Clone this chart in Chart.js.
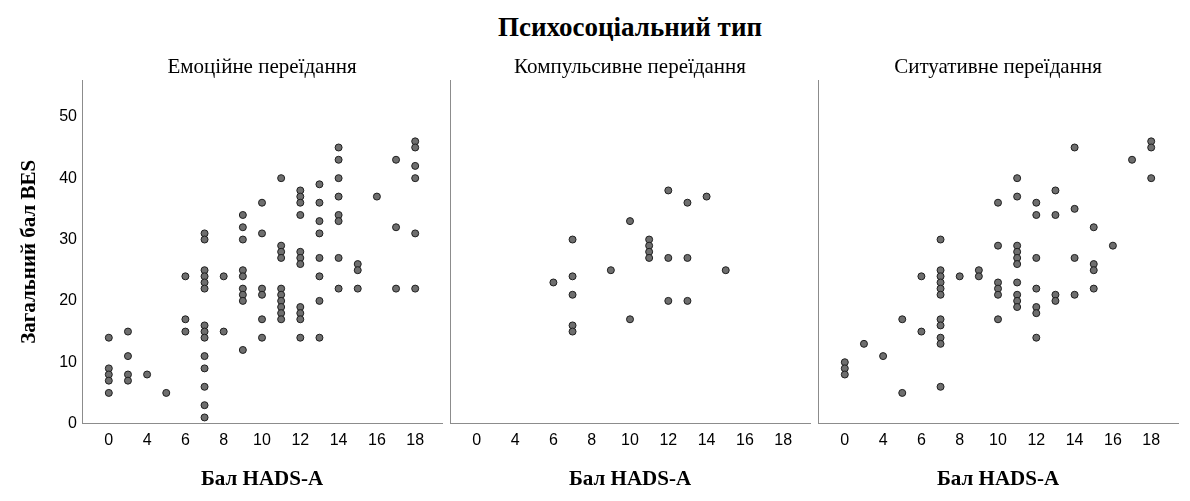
<!DOCTYPE html>
<html lang="uk">
<head>
<meta charset="utf-8">
<title>Психосоціальний тип</title>
<script src="https://cdn.jsdelivr.net/npm/chart.js@4.4.1/dist/chart.umd.min.js"></script>
<style>
    body { margin: 0; background: #fff; }
    #wrap { position: relative; width: 1190px; height: 501px; overflow: hidden; background: #fff; }
    #mainTitle {
        position: absolute; left: 82px; width: 1096px; top: 11px;
        text-align: center; font: bold 27px 'Liberation Serif', serif; line-height: 32px; color: #000;
    }
    canvas { position: absolute; top: 0; }
</style>
</head>
<body>
<div id="wrap">
    <div id="mainTitle">Психосоціальний тип</div>
    <canvas id="panelEmotional" width="447" height="501" style="left:0"></canvas>
    <canvas id="panelCompulsive" width="370" height="501" style="left:445px"></canvas>
    <canvas id="panelSituational" width="377" height="501" style="left:813px"></canvas>
</div>
<script>
// HADS-A scores present on the (ordinal) x axis; every other one gets a label
const hadsCategories = ['0', '2', '4', '5', '6', '7', '8', '9', '10', '11', '12', '13', '14', '15', '16', '17', '18'];
const xTickIndexes = [0, 2, 4, 6, 8, 10, 12, 14, 16];
const yTicks = [0, 10, 20, 30, 40, 50];

// BES totals for each HADS-A category (same order as hadsCategories)
const emotionalBes = [
    [14, 9, 8, 7, 5], [15, 11, 8, 7], [8], [5], [24, 17, 15],
    [31, 30, 25, 24, 23, 22, 16, 15, 14, 11, 9, 6, 3, 1], [24, 15],
    [34, 32, 30, 25, 24, 22, 21, 20, 12], [36, 31, 22, 21, 17, 14],
    [40, 29, 28, 27, 22, 21, 20, 19, 18, 17], [38, 37, 36, 34, 28, 27, 26, 19, 18, 17, 14],
    [39, 36, 33, 31, 27, 24, 20, 14], [45, 43, 40, 37, 34, 33, 27, 22],
    [26, 25, 22], [37], [43, 32, 22], [46, 45, 42, 40, 31, 22]
];
const compulsiveBes = [
    [], [], [], [], [23], [30, 24, 21, 16, 15], [], [25], [33, 17],
    [30, 29, 28, 27], [38, 27, 20], [36, 27, 20], [37], [25], [], [], []
];
const situationalBes = [
    [10, 9, 8], [13], [11], [17, 5], [24, 15],
    [30, 25, 24, 23, 22, 21, 17, 16, 14, 13, 6], [24], [25, 24],
    [36, 29, 23, 22, 21, 17], [40, 37, 29, 28, 27, 26, 23, 21, 20, 19],
    [36, 34, 27, 22, 19, 18, 14], [38, 34, 21, 20], [45, 35, 27, 21],
    [32, 26, 25, 22], [29], [43], [46, 45, 40]
];

const serif = "'Liberation Serif', 'Times New Roman', serif";
Chart.defaults.font.family = "'Liberation Sans', Arial, sans-serif";
Chart.defaults.color = '#000';

// panel heading centred over the plot area (the built-in title centres on the canvas)
const panelSubtitle = {
    id: 'panelSubtitle',
    afterDraw: function (chart, args, opts) {
        const ctx = chart.ctx;
        const area = chart.chartArea;
        ctx.save();
        ctx.font = '21px ' + serif;
        ctx.fillStyle = '#000';
        ctx.textAlign = 'center';
        ctx.textBaseline = 'middle';
        ctx.fillText(opts.text, (area.left + area.right) / 2, 67);
        ctx.restore();
    }
};

function toPoints(besByCategory) {
    const points = [];
    besByCategory.forEach(function (values, i) {
        values.forEach(function (v) {
            points.push({ x: i, y: v });
        });
    });
    return points;
}

function makePanel(canvasId, subtitle, besByCategory, showYAxis, axisWidth, padRight) {
    new Chart(document.getElementById(canvasId), {
        type: 'scatter',
        data: {
            datasets: [{
                data: toPoints(besByCategory),
                backgroundColor: '#6e6e6e',
                borderColor: '#1e1e1e',
                borderWidth: 1,
                pointRadius: 3.5,
                pointHoverRadius: 3.5
            }]
        },
        plugins: [panelSubtitle],
        options: {
            responsive: false,
            animation: false,
            layout: { padding: { left: 0, right: padRight, top: 80, bottom: 0 } },
            scales: {
                x: {
                    type: 'linear',
                    min: -1.4,
                    max: 17.4,
                    afterBuildTicks: function (axis) {
                        axis.ticks = xTickIndexes.map(function (v) { return { value: v }; });
                    },
                    grid: { display: false, drawTicks: false },
                    border: { display: true, color: '#8c8c8c', width: 1 },
                    ticks: {
                        autoSkip: false,
                        maxRotation: 0,
                        padding: 7,
                        font: { size: 16 },
                        callback: function (value) { return hadsCategories[value]; }
                    },
                    title: {
                        display: true,
                        text: 'Бал HADS-A',
                        font: { family: serif, size: 21, weight: 'bold' },
                        padding: { top: 10, bottom: 9 }
                    }
                },
                y: {
                    min: 0,
                    max: 56,
                    afterBuildTicks: function (axis) {
                        axis.ticks = yTicks.map(function (v) { return { value: v }; });
                    },
                    afterFit: function (axis) { axis.width = axisWidth; },
                    grid: { display: false, drawTicks: false },
                    border: { display: true, color: '#8c8c8c', width: 1 },
                    ticks: { display: showYAxis, padding: 5, font: { size: 16 } },
                    title: {
                        display: showYAxis,
                        text: 'Загальний бал BES',
                        font: { family: serif, size: 21, weight: 'bold' },
                        padding: { top: 17, bottom: 0 }
                    }
                }
            },
            plugins: {
                legend: { display: false },
                tooltip: { enabled: false },
                title: { display: false },
                panelSubtitle: { text: subtitle }
            }
        }
    });
}

makePanel('panelEmotional', 'Емоційне переїдання', emotionalBes, true, 82, 5);
makePanel('panelCompulsive', 'Компульсивне переїдання', compulsiveBes, false, 5, 5);
makePanel('panelSituational', 'Ситуативне переїдання', situationalBes, false, 5, 12);
</script>
</body>
</html>
